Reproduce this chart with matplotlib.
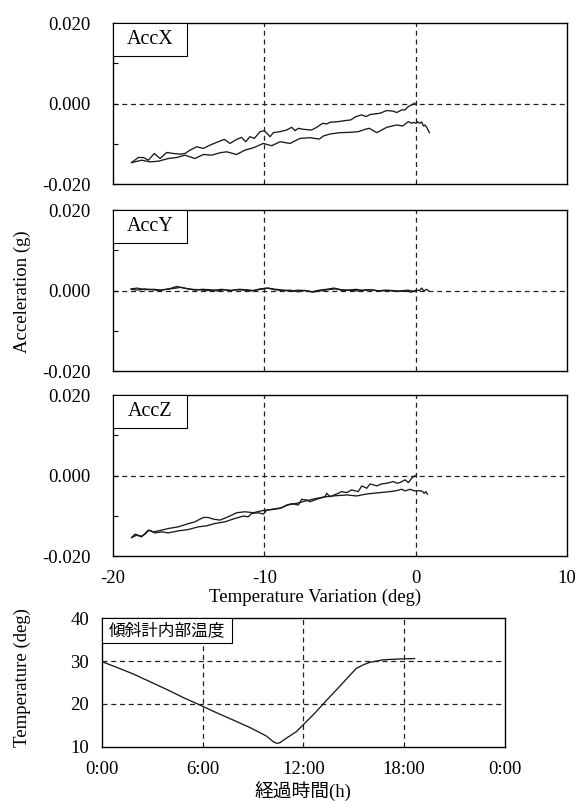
import matplotlib
matplotlib.use('Agg')
import matplotlib.pyplot as plt
from matplotlib.patches import Rectangle

plt.rcParams['font.family'] = ['Liberation Serif', 'Noto Sans CJK JP']
plt.rcParams['font.size'] = 13

# AccX : temperature variation (deg) / acceleration (g)
accx_t1 = [-18.77, -18.33, -18.00, -17.66, -17.27, -16.89, -16.45, -16.01, -15.57, -15.24,
           -14.91, -14.47, -14.03, -13.59, -13.04, -12.64, -12.27, -11.83, -11.50, -11.23,
           -10.95, -10.66, -10.28, -10.00, -9.62, -9.40, -8.96, -8.52, -8.19, -7.97, -7.75,
           -7.42, -6.87, -6.54, -6.14, -5.88, -5.66, -5.11, -4.67, -4.29, -3.94, -3.56,
           -3.28, -3.01, -2.35, -1.91, -1.47, -1.25, -0.92, -0.70, -0.48, -0.26, -0.04]
accx_a1 = [-0.01466, -0.01341, -0.01341, -0.01408, -0.01241, -0.01366, -0.01216, -0.01241,
           -0.01258, -0.01241, -0.01158, -0.01074, -0.01116, -0.01033, -0.00949, -0.00891,
           -0.00991, -0.00891, -0.00841, -0.00949, -0.00824, -0.00866, -0.00699, -0.00674,
           -0.00824, -0.00724, -0.00699, -0.00658, -0.00591, -0.00674, -0.00616, -0.00641,
           -0.00658, -0.00591, -0.00491, -0.00508, -0.00466, -0.00449, -0.00424, -0.00408,
           -0.00324, -0.00283, -0.00324, -0.00274, -0.00241, -0.00174, -0.00191, -0.00224,
           -0.00158, -0.00158, -0.00074, -0.00033, 0.00010]
accx_t2 = [-18.77, -18.55, -18.11, -17.55, -17.00, -16.34, -15.79, -15.24, -14.58, -14.03,
           -13.48, -12.93, -12.49, -11.83, -11.28, -10.72, -10.06, -9.51, -8.96, -8.30,
           -7.64, -6.98, -6.36, -6.10, -5.66, -5.00, -4.34, -3.79, -3.34, -3.06, -2.57,
           -1.91, -1.25, -0.85, -0.48, -0.26, -0.15, 0.03, 0.11, 0.25, 0.40, 0.51, 0.62,
           0.73, 0.91]
accx_a2 = [-0.01466, -0.01449, -0.01408, -0.01449, -0.01433, -0.01366, -0.01341, -0.01283,
           -0.01366, -0.01266, -0.01283, -0.01224, -0.01199, -0.01266, -0.01158, -0.01099,
           -0.00991, -0.01049, -0.00949, -0.00991, -0.00866, -0.00849, -0.00883, -0.00808,
           -0.00758, -0.00724, -0.00716, -0.00699, -0.00641, -0.00616, -0.00724, -0.00591,
           -0.00533, -0.00558, -0.00449, -0.00491, -0.00466, -0.00491, -0.00449, -0.00491,
           -0.00458, -0.00558, -0.00533, -0.00591, -0.00724]

# AccY
accy_t1 = [-18.80, -18.35, -17.90, -17.40, -16.95, -16.50, -16.05, -15.50, -15.05, -14.55,
           -14.10, -13.60, -13.10, -12.65, -12.15, -11.70, -11.20, -10.70, -10.20, -9.75,
           -9.25, -8.75, -8.30, -7.80, -7.30, -6.85, -6.35, -5.90, -5.40, -4.90, -4.45,
           -3.95, -3.45, -3.00, -2.50, -2.00, -1.55, -1.05, -0.55, -0.10]
accy_a1 = [0.0003, 0.0001, 0.0004, 0.0002, 0.0000, 0.0003, 0.0005, 0.0008, 0.0004, 0.0001,
           0.0003, 0.0002, -0.0001, 0.0002, 0.0000, 0.0003, 0.0002, 0.0000, 0.0003, 0.0006,
           0.0003, 0.0001, -0.0002, 0.0001, 0.0000, -0.0003, 0.0001, 0.0003, 0.0006, 0.0002,
           0.0001, 0.0003, 0.0000, 0.0002, -0.0001, 0.0001, 0.0000, -0.0002, 0.0001, -0.0002]
accy_t2 = [-18.80, -18.40, -17.85, -17.30, -16.80, -16.30, -15.80, -15.30, -14.80, -14.30,
           -13.80, -13.30, -12.80, -12.30, -11.80, -11.30, -10.80, -10.30, -9.80, -9.30,
           -8.80, -8.30, -7.80, -7.30, -6.80, -6.30, -5.80, -5.30, -4.80, -4.30, -3.80,
           -3.30, -2.80, -2.30, -1.80, -1.30, -0.80, -0.30, 0.05, 0.25, 0.40, 0.55, 0.70, 0.85]
accy_a2 = [0.0004, 0.0006, 0.0002, 0.0003, 0.0001, 0.0004, 0.0010, 0.0006, 0.0003, 0.0002,
           0.0000, 0.0001, 0.0003, 0.0000, 0.0002, 0.0001, -0.0001, 0.0004, 0.0006, 0.0002,
           0.0000, 0.0001, -0.0003, 0.0000, -0.0004, -0.0001, 0.0002, 0.0004, 0.0000, 0.0001,
           -0.0001, 0.0002, 0.0001, -0.0001, 0.0000, -0.0002, 0.0000, -0.0004, 0.0001, 0.0000,
           0.0006, -0.0001, 0.0003, 0.0000]

# AccZ
accz_t1 = [-18.77, -18.55, -18.33, -18.11, -17.89, -17.62, -17.33, -17.00, -16.34, -15.68,
           -15.13, -14.58, -14.03, -13.70, -13.37, -12.93, -12.38, -11.83, -11.28, -10.72,
           -10.17, -9.51, -8.85, -8.30, -7.86, -7.20, -6.54, -5.88, -5.22, -4.56, -3.90,
           -3.23, -2.35, -1.69, -1.25, -0.92, -0.70, -0.37, -0.15, 0.07, 0.29, 0.47, 0.56,
           0.69, 0.78]
accz_a1 = [-0.01542, -0.01458, -0.01483, -0.01508, -0.01458, -0.01358, -0.01400, -0.01375,
           -0.01317, -0.01275, -0.01208, -0.01150, -0.01042, -0.01042, -0.01083, -0.01108,
           -0.01025, -0.00925, -0.00900, -0.00925, -0.00875, -0.00842, -0.00800, -0.00708,
           -0.00692, -0.00625, -0.00567, -0.00525, -0.00500, -0.00483, -0.00508, -0.00458,
           -0.00425, -0.00400, -0.00375, -0.00342, -0.00383, -0.00342, -0.00375, -0.00383,
           -0.00375, -0.00400, -0.00442, -0.00400, -0.00467]
accz_t2 = [-18.77, -18.44, -18.11, -17.66, -17.22, -16.78, -16.34, -15.68, -15.02, -14.36,
           -13.81, -13.26, -12.60, -11.94, -11.39, -11.06, -10.84, -10.39, -10.06, -9.84,
           -9.40, -8.96, -8.52, -8.08, -7.75, -7.53, -7.20, -6.98, -6.54, -5.99, -5.88,
           -5.66, -5.11, -4.89, -4.56, -4.23, -3.79, -3.56, -3.23, -3.01, -2.57, -2.24,
           -1.91, -1.47, -1.25, -1.03, -0.70, -0.48, -0.26, -0.04]
accz_a2 = [-0.01542, -0.01483, -0.01525, -0.01358, -0.01425, -0.01400, -0.01425, -0.01375,
           -0.01342, -0.01275, -0.01250, -0.01192, -0.01150, -0.01067, -0.01008, -0.01025,
           -0.00942, -0.00925, -0.00958, -0.00858, -0.00842, -0.00817, -0.00733, -0.00708,
           -0.00733, -0.00592, -0.00608, -0.00650, -0.00592, -0.00525, -0.00442, -0.00525,
           -0.00442, -0.00400, -0.00425, -0.00358, -0.00400, -0.00258, -0.00317, -0.00208,
           -0.00258, -0.00208, -0.00192, -0.00150, -0.00192, -0.00175, -0.00108, -0.00175,
           -0.00067, 0.00000]

# temperature inside the inclinometer
hours = [0.0, 0.89, 1.88, 2.87, 3.86, 4.85, 5.84, 6.83, 7.82, 8.81, 9.80, 10.20, 10.40,
         10.59, 10.99, 11.58, 12.18, 12.77, 13.37, 13.96, 14.56, 15.15, 15.55, 15.94,
         16.73, 17.72, 18.62]
temp_in = [29.9, 28.55, 27.0, 25.2, 23.4, 21.5, 19.75, 17.95, 16.24, 14.5, 12.5, 11.2,
           10.8, 10.9, 12.0, 13.5, 15.85, 18.2, 20.8, 23.25, 25.8, 28.3, 29.1, 29.7,
           30.3, 30.5, 30.6]

acc_labels = ['AccX', 'AccY', 'AccZ']
acc_series = [(accx_t1, accx_a1, accx_t2, accx_a2),
              (accy_t1, accy_a1, accy_t2, accy_a2),
              (accz_t1, accz_a1, accz_t2, accz_a2)]
time_ticks = [0, 6, 12, 18, 24]
time_labels = ['0:00', '6:00', '12:00', '18:00', '0:00']

line_col = '#1a1a1a'
grid_kw = dict(color='#222222', linestyle=(0, (4, 3)), linewidth=0.9)

fig = plt.figure(figsize=(5.86, 8.05), dpi=100)

tops = [0.9714, 0.7391, 0.5093]
for i, (lab, (t1, a1, t2, a2)) in enumerate(zip(acc_labels, acc_series)):
    ax = fig.add_axes([0.1928, tops[i] - 0.2, 0.7747, 0.2])
    ax.plot(t1, a1, color=line_col, lw=0.95)
    ax.plot(t2, a2, color=line_col, lw=0.95)
    ax.set_xlim(-20, 10)
    ax.set_ylim(-0.02, 0.02)
    ax.set_xticks([-20, -10, 0, 10])
    ax.set_yticks([-0.02, -0.01, 0, 0.01, 0.02])
    ax.set_yticklabels(['-0.020', '', '0.000', '', '0.020'])
    ax.tick_params(axis='y', direction='in', length=3.5, width=0.8, pad=16, labelsize=13.5)
    ax.tick_params(axis='x', length=0, pad=10, labelsize=13.5)
    if i < 2:
        ax.set_xticklabels([])
    else:
        ax.set_xticklabels(['-20', '-10', '0', '10'])
    for x in [-10, 0]:
        ax.axvline(x, **grid_kw, zorder=1)
    ax.axhline(0, **grid_kw, zorder=1)
    for s in ax.spines.values():
        s.set_linewidth(1.0)
    ax.add_patch(Rectangle((0, 1 - 0.205), 0.163, 0.205, transform=ax.transAxes,
                           facecolor='white', edgecolor='black', lw=0.8, zorder=5))
    ax.text(0.0815, 1 - 0.1025, lab, transform=ax.transAxes, ha='center', va='center',
            fontsize=14.5, zorder=6)

fig.text(0.5375, 0.2584, 'Temperature Variation (deg)', ha='center', va='center', fontsize=13.5)
fig.text(0.0375, 0.6373, 'Acceleration (g)', ha='center', va='center', rotation=90, fontsize=13.5)

axt = fig.add_axes([0.1735, 0.0724, 0.6883, 0.1595])
axt.plot(hours, temp_in, color=line_col, lw=0.95)
axt.set_xlim(0, 24)
axt.set_ylim(10, 40)
axt.set_xticks(time_ticks)
axt.set_xticklabels(time_labels)
axt.set_yticks([10, 20, 30, 40])
axt.tick_params(length=0, labelsize=13.5)
axt.tick_params(axis='x', pad=10)
axt.tick_params(axis='y', pad=9)
for x in [6, 12, 18]:
    axt.axvline(x, **grid_kw, zorder=1)
for y in [20, 30]:
    axt.axhline(y, **grid_kw, zorder=1)
for s in axt.spines.values():
    s.set_linewidth(1.0)
axt.add_patch(Rectangle((0, 1 - 0.195), 0.3223, 0.195, transform=axt.transAxes,
                        facecolor='white', edgecolor='black', lw=0.8, zorder=5))
axt.text(0.161, 1 - 0.0975, '傾斜計内部温度', transform=axt.transAxes, ha='center',
         va='center', fontsize=12, zorder=6)

fig.text(0.517, 0.016, '経過時間(h)', ha='center', va='center', fontsize=13.5)
fig.text(0.0375, 0.1578, 'Temperature (deg)', ha='center', va='center', rotation=90, fontsize=13.5)

fig.savefig('out.png', dpi=100)
